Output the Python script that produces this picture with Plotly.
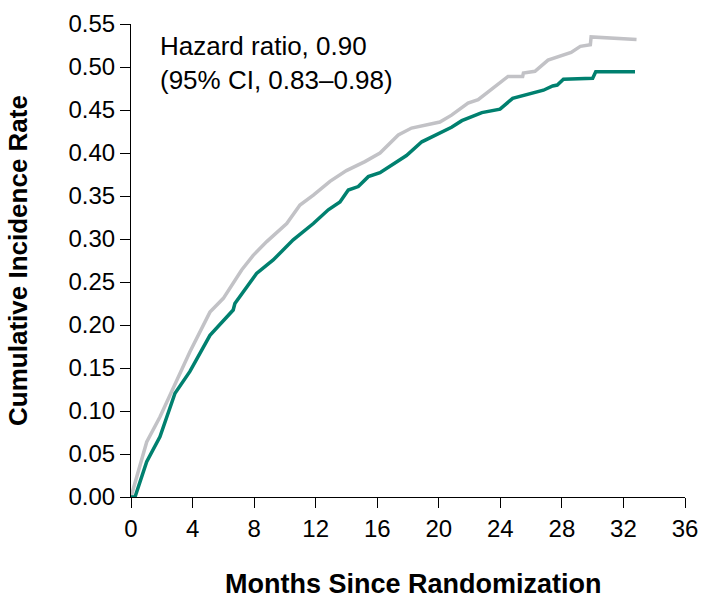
import plotly.graph_objects as go

# Control (gray) curve
months_gray = [0, 1.02, 1.88, 2.75, 3.83, 5.13, 6.0, 7.19, 7.94, 8.82, 10.12, 10.98, 11.85,
               12.93, 14.0, 15.2, 16.18, 17.37, 18.23, 20.07, 20.83, 21.9, 22.56, 24.5, 25.45,
               25.5, 26.25, 27.1, 28.5, 28.6, 29.2, 29.85, 29.9, 32.85]
rate_gray = [0, 0.064, 0.093, 0.128, 0.169, 0.215, 0.231, 0.264, 0.281, 0.297, 0.318, 0.3395, 0.351,
             0.367, 0.3795, 0.390, 0.400, 0.421, 0.429, 0.436, 0.444, 0.458, 0.462, 0.489, 0.489,
             0.493, 0.495, 0.508, 0.517, 0.517, 0.524, 0.526, 0.535, 0.532]

# Treatment (teal) curve
months_teal = [0, 0.26, 1.02, 1.88, 2.86, 3.83, 5.13, 6.64, 6.75, 8.16, 9.24, 10.54, 11.85, 12.82,
               13.58, 14.12, 14.77, 15.42, 16.18, 17.04, 17.9, 18.9, 20.83, 21.5, 22.8, 23.98,
               24.8, 26.8, 27.4, 27.7, 28.1, 30.0, 30.2, 32.75]
rate_teal = [0, 0, 0.041, 0.070, 0.1206, 0.146, 0.188, 0.2174, 0.225, 0.260, 0.2756, 0.299, 0.318, 0.334,
             0.343, 0.357, 0.361, 0.3725, 0.377, 0.387, 0.397, 0.413, 0.430, 0.4376, 0.447, 0.451,
             0.4636, 0.473, 0.478, 0.479, 0.4857, 0.487, 0.4945, 0.4945]

x_ticks = [0, 4, 8, 12, 16, 20, 24, 28, 32, 36]
y_ticks = [0.00, 0.05, 0.10, 0.15, 0.20, 0.25, 0.30, 0.35, 0.40, 0.45, 0.50, 0.55]

GRAY = "#C2C2C6"
TEAL = "#00806F"

fig = go.Figure()
fig.add_trace(go.Scatter(x=months_gray, y=rate_gray, mode="lines",
                         line=dict(color=GRAY, width=3.5), showlegend=False))
fig.add_trace(go.Scatter(x=months_teal, y=rate_teal, mode="lines",
                         line=dict(color=TEAL, width=3.5), showlegend=False))

font_family = "Liberation Sans, Arial, sans-serif"

fig.update_layout(
    width=702, height=602,
    margin=dict(l=131, r=17, t=24, b=105),
    paper_bgcolor="white", plot_bgcolor="white",
    font=dict(family=font_family, size=24, color="black"),
    xaxis=dict(range=[0, 36], tickvals=x_ticks, ticktext=[str(v) for v in x_ticks],
               showgrid=False, zeroline=False, showline=True, linecolor="black", linewidth=1.2,
               ticks="outside", ticklen=10, tickcolor="black", tickwidth=1.2,
               tickfont=dict(size=24), automargin=False),
    yaxis=dict(range=[0, 0.55], tickvals=y_ticks, ticktext=[f"{v:.2f}" for v in y_ticks],
               showgrid=False, zeroline=False, showline=True, linecolor="black", linewidth=1.2,
               ticks="outside", ticklen=10, tickcolor="black", tickwidth=1.2,
               tickfont=dict(size=24), automargin=False,
               title=dict(text="<b>Cumulative Incidence Rate</b>", font=dict(size=26), standoff=33)),
    annotations=[
        dict(x=0, y=1, xref="paper", yref="paper", xanchor="left", yanchor="top",
             xshift=27, yshift=-5, align="left", showarrow=False,
             text="Hazard ratio, 0.90<br>(95% CI, 0.83–0.98)",
             font=dict(size=26, color="black")),
        dict(x=0.5, y=0, xref="paper", yref="paper", xanchor="center", yanchor="middle",
             xshift=5, yshift=-87, showarrow=False,
             text="<b>Months Since Randomization</b>",
             font=dict(size=27, color="black")),
    ],
)

fig.write_html(
    "out.html",
    config={"displayModeBar": False},
    post_script="document.body.style.margin='0';document.body.style.overflow='hidden';",
)
